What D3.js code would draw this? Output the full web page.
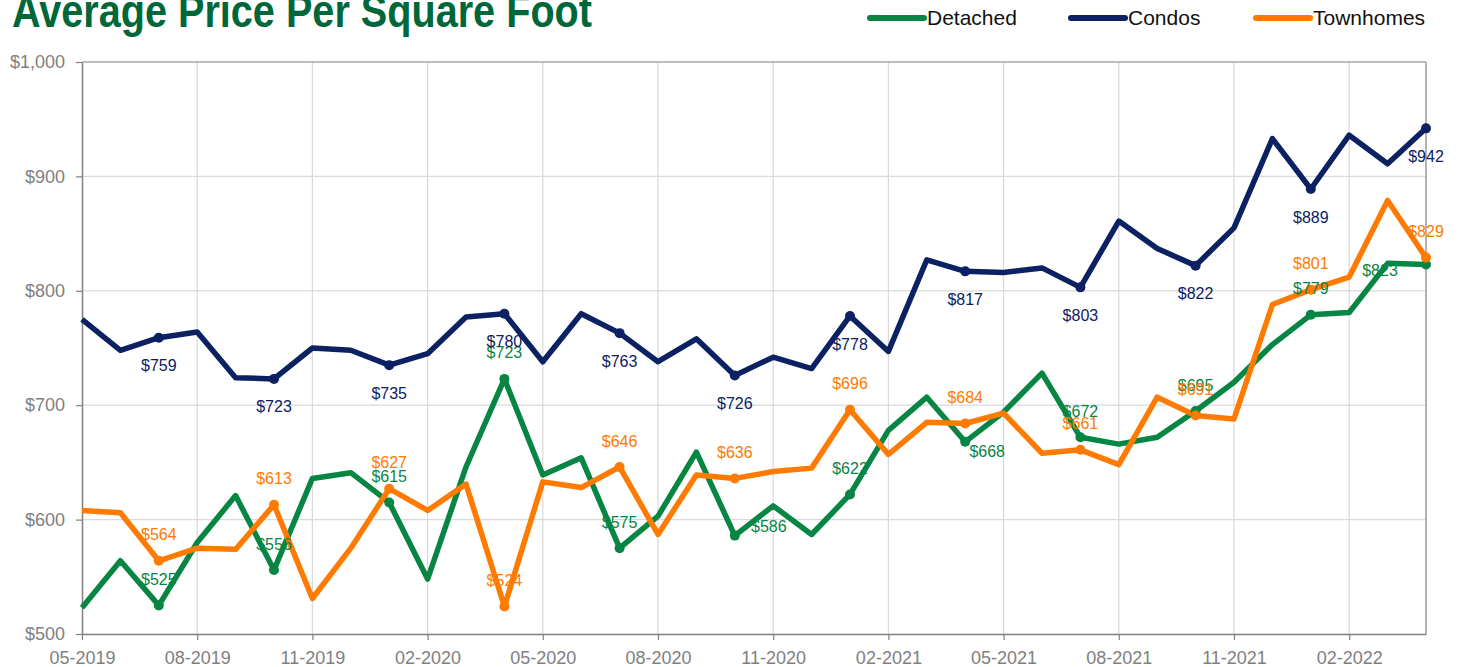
<!DOCTYPE html>
<html>
<head>
<meta charset="utf-8">
<script src="https://cdn.jsdelivr.net/npm/d3@7"></script>
<style>
  body { margin: 0; background: #fff; }
  text { font-family: "Liberation Sans", Arial, sans-serif; }
</style>
</head>
<body>
<div id="chart"></div>
<script>
// data (monthly, 05-2019 .. 04-2022)
var months = ["05-2019","06-2019","07-2019","08-2019","09-2019","10-2019","11-2019","12-2019",
  "01-2020","02-2020","03-2020","04-2020","05-2020","06-2020","07-2020","08-2020","09-2020","10-2020","11-2020","12-2020",
  "01-2021","02-2021","03-2021","04-2021","05-2021","06-2021","07-2021","08-2021","09-2021","10-2021","11-2021","12-2021",
  "01-2022","02-2022","03-2022","04-2022"];

var detached = [523,564,525,580,621,556,636,641,615,548,646,723,639,654,575,603,659,586,612,587,622,678,707,668,694,728,672,666,672,695,720,753,779,781,824,823];
var condos = [775,748,759,764,724,723,750,748,735,745,777,780,738,780,763,738,758,726,742,732,778,747,827,817,816,820,803,861,837,822,855,933,889,936,911,942];
var townhomes = [608,606,564,575,574,613,531,575,627,608,631,524,633,628,646,587,639,636,642,645,696,657,685,684,693,658,661,648,707,691,688,788,801,812,879,829];

var seriesNames = ["Detached", "Condos", "Townhomes"];
var yTicks = [500, 600, 700, 800, 900, 1000];
var xTickLabels = ["05-2019","08-2019","11-2019","02-2020","05-2020","08-2020","11-2020","02-2021","05-2021","08-2021","11-2021","02-2022"];

// styling
var colors = { Detached: "#078543", Condos: "#0b2162", Townhomes: "#ff7a00" };
// default label offset per series, plus a few hand-placed ones
var labelDy = { Detached: -26, Condos: 28, Townhomes: -26 };
var labelShift = { Detached: { 17: [34, -9], 23: [22, 10], 35: [-46, 6] } };

var W = 1462, H = 667;
var margin = {top: 62, right: 36, bottom: 33, left: 82},
  width = W - margin.left - margin.right,
  height = H - margin.top - margin.bottom;

var svg = d3.select("#chart")
  .append("svg")
    .attr("width", W)
    .attr("height", H);

// title (cut at the top like the original)
svg.append("text")
  .attr("x", 12)
  .attr("y", 27)
  .attr("textLength", 580)
  .attr("lengthAdjust", "spacingAndGlyphs")
  .style("font-family", "'Liberation Sans', Arial, sans-serif")
  .style("font-size", "46px")
  .style("font-weight", "bold")
  .style("fill", "#00673a")
  .text("Average Price Per Square Foot");

var g = svg.append("g")
  .attr("transform", "translate(" + margin.left + "," + margin.top + ")");

var x = d3.scalePoint()
  .domain(months)
  .range([0, width]);

var y = d3.scaleLinear()
  .domain([500, 1000])
  .range([height, 0]);

// grid
g.selectAll(".hgrid")
  .data(yTicks.slice(1, -1))
  .enter()
  .append("line")
    .attr("x1", 0).attr("x2", width)
    .attr("y1", function(d) { return y(d); })
    .attr("y2", function(d) { return y(d); })
    .style("stroke", "#d9d9d9")
    .style("stroke-width", 1.2);

g.selectAll(".vgrid")
  .data(xTickLabels.slice(1))
  .enter()
  .append("line")
    .attr("x1", function(d) { return x(d); })
    .attr("x2", function(d) { return x(d); })
    .attr("y1", 0).attr("y2", height)
    .style("stroke", "#d9d9d9")
    .style("stroke-width", 1.2);

// top + right border
g.append("line").attr("x1", 0).attr("x2", width).attr("y1", 0).attr("y2", 0)
  .style("stroke", "#a6a6a6").style("stroke-width", 1.5);
g.append("line").attr("x1", width).attr("x2", width).attr("y1", 0).attr("y2", height)
  .style("stroke", "#b3b3b3").style("stroke-width", 2);

// axes
var yAxis = g.append("g")
  .call(d3.axisLeft(y).tickValues(yTicks).tickFormat(d3.format("$,")).tickSizeInner(6).tickSizeOuter(0).tickPadding(11));
var xAxis = g.append("g")
  .attr("transform", "translate(0," + height + ")")
  .call(d3.axisBottom(x).tickValues(xTickLabels).tickSizeInner(6).tickSizeOuter(0).tickPadding(11));

[yAxis, xAxis].forEach(function(ax) {
  ax.select(".domain").style("stroke", "#808080").style("stroke-width", 1.5);
  ax.selectAll(".tick line").style("stroke", "#808080").style("stroke-width", 1.2);
  ax.selectAll(".tick text")
    .style("fill", "#808080")
    .style("font-size", "18px")
    .style("font-family", "'Liberation Sans', Arial, sans-serif");
});

// series lines
var seriesData = { Detached: detached, Condos: condos, Townhomes: townhomes };

var line = d3.line()
  .x(function(d, i) { return x(months[i]); })
  .y(function(d) { return y(d); });

seriesNames.forEach(function(name) {
  g.append("path")
    .datum(seriesData[name])
    .attr("d", line)
    .style("fill", "none")
    .style("stroke", colors[name])
    .style("stroke-width", 5.5)
    .style("stroke-linejoin", "round");
});

// dots on every third month, starting 07-2019
seriesNames.forEach(function(name) {
  var pts = seriesData[name].map(function(v, i) { return {v: v, i: i}; })
    .filter(function(d) { return d.i % 3 === 2; });
  g.selectAll(".dot-" + name)
    .data(pts)
    .enter()
    .append("circle")
      .attr("cx", function(d) { return x(months[d.i]); })
      .attr("cy", function(d) { return y(d.v); })
      .attr("r", 5)
      .style("fill", colors[name]);
});

// value labels
seriesNames.forEach(function(name) {
  var pts = seriesData[name].map(function(v, i) { return {v: v, i: i}; })
    .filter(function(d) { return d.i % 3 === 2; });
  g.selectAll(".lab-" + name)
    .data(pts)
    .enter()
    .append("text")
      .attr("x", function(d) {
        var s = labelShift[name] && labelShift[name][d.i];
        return x(months[d.i]) + (s ? s[0] : 0);
      })
      .attr("y", function(d) {
        var s = labelShift[name] && labelShift[name][d.i];
        return y(d.v) + (s ? s[1] : labelDy[name]);
      })
      .attr("dy", "0.35em")
      .style("text-anchor", "middle")
      .style("font-size", "16px")
      .style("fill", colors[name])
      .text(function(d) { return "$" + d.v; });
});

// legend
var legendX = [870, 1071, 1256];
var legend = svg.selectAll(".legend")
  .data(seriesNames)
  .enter()
  .append("g")
    .attr("transform", function(d, i) { return "translate(" + legendX[i] + ",18)"; });

legend.append("line")
  .attr("x1", 0).attr("x2", 54)
  .attr("y1", 0).attr("y2", 0)
  .style("stroke", function(d) { return colors[d]; })
  .style("stroke-width", 6)
  .style("stroke-linecap", "round");

legend.append("text")
  .attr("x", 57)
  .attr("y", 0)
  .attr("dy", "0.35em")
  .style("font-size", "21px")
  .style("fill", "#111")
  .text(function(d) { return d; });
</script>
</body>
</html>
